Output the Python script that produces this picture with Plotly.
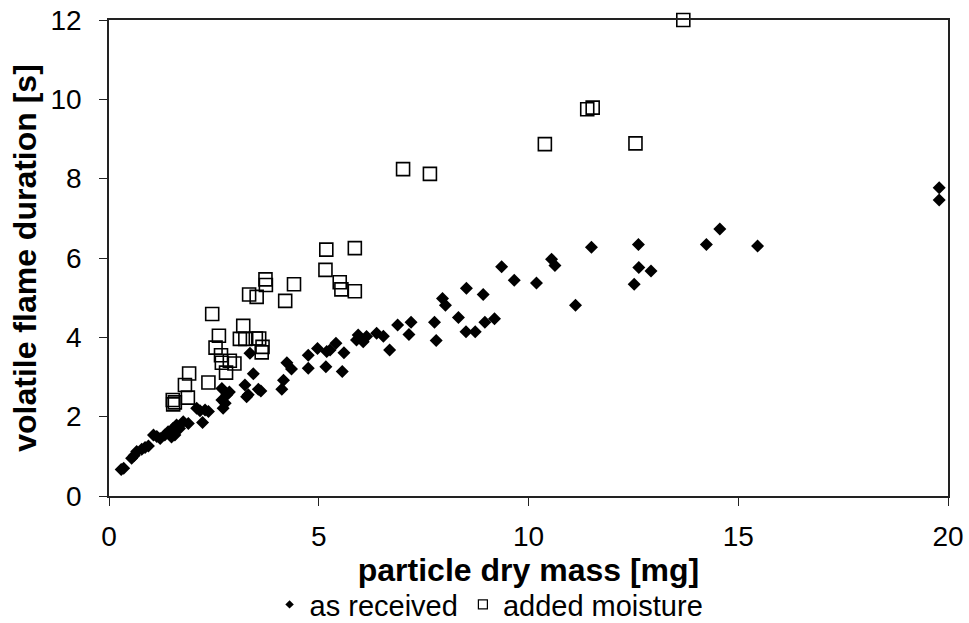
import plotly.graph_objects as go

# as received (filled diamonds)
recv_mass = [0.29, 0.35, 0.54, 0.60, 0.66, 0.78, 0.86, 0.94, 1.06, 1.14, 1.22, 1.33, 1.41, 1.49,
             1.53, 1.57, 1.61, 1.68, 1.77, 1.89, 2.09, 2.17, 2.29, 2.23, 2.37, 2.69, 2.81, 2.87,
             2.69, 2.72, 2.77, 3.24, 3.32, 3.28, 3.36, 3.44, 3.56, 3.62, 4.24, 4.35, 4.16, 4.12,
             4.75, 4.75, 4.97, 5.19, 5.27, 5.41, 5.17, 5.60, 5.56, 5.94, 6.14, 6.38, 6.06, 5.90,
             6.54, 6.69, 6.88, 7.15, 7.20, 7.76, 7.80, 7.95, 8.02, 8.33, 8.52, 8.51, 8.73, 8.92,
             8.96, 9.19, 9.36, 9.66, 10.19, 10.55, 10.63, 11.12, 11.50, 12.62, 12.63, 12.92, 12.52,
             14.24, 14.56, 15.46, 19.79, 19.79]
recv_dur = [0.67, 0.70, 0.95, 1.02, 1.12, 1.18, 1.22, 1.26, 1.54, 1.50, 1.45, 1.54, 1.62, 1.49,
            1.71, 1.54, 1.79, 1.70, 1.87, 1.83, 2.21, 2.15, 2.17, 1.85, 2.13, 2.71, 2.55, 2.62,
            2.42, 2.21, 2.34, 2.80, 2.55, 2.50, 3.60, 3.08, 2.69, 2.65, 3.36, 3.20, 2.92, 2.69,
            3.55, 3.22, 3.72, 3.64, 3.68, 3.85, 3.26, 3.61, 3.14, 4.06, 4.02, 4.10, 3.89, 3.93,
            4.03, 3.68, 4.31, 4.07, 4.38, 4.38, 3.92, 4.98, 4.81, 4.50, 5.24, 4.14, 4.14, 5.08,
            4.38, 4.47, 5.78, 5.44, 5.37, 5.97, 5.81, 4.81, 6.27, 6.34, 5.76, 5.67, 5.34,
            6.34, 6.73, 6.30, 7.77, 7.46]

# added moisture (open squares)
moist_mass = [1.52, 1.53, 1.57, 1.88, 1.81, 1.91, 2.37, 2.46, 2.62, 2.54, 2.67, 2.69, 2.88, 2.99,
              2.79, 3.20, 3.12, 3.25, 3.50, 3.58, 3.66, 3.64, 3.34, 3.52, 3.73, 3.74, 4.20, 4.41,
              5.16, 5.18, 5.86, 5.50, 5.54, 5.86, 7.01, 7.65, 10.39, 11.40, 11.53, 12.55, 13.69]
moist_dur = [2.42, 2.31, 2.36, 2.48, 2.80, 3.09, 2.86, 4.59, 4.04, 3.74, 3.55, 3.36, 3.41, 3.34,
             3.11, 4.29, 3.96, 3.96, 3.97, 3.97, 3.76, 3.62, 5.08, 5.02, 5.46, 5.32, 4.92, 5.34,
             5.70, 6.21, 6.25, 5.39, 5.21, 5.16, 8.24, 8.12, 8.87, 9.75, 9.79, 8.89, 12.00]

x_ticks = [0, 5, 10, 15, 20]
y_ticks = [0, 2, 4, 6, 8, 10, 12]

FONT = "Liberation Sans, Arial, sans-serif"

fig = go.Figure()
fig.add_trace(go.Scatter(
    x=recv_mass, y=recv_dur, mode="markers", showlegend=False, cliponaxis=False,
    marker=dict(symbol="diamond", size=10, color="black", line=dict(width=0)),
))
fig.add_trace(go.Scatter(
    x=moist_mass, y=moist_dur, mode="markers", showlegend=False, cliponaxis=False,
    marker=dict(symbol="square-open", size=13, color="black", line=dict(width=1.6)),
))
# legend entries (smaller symbols)
fig.add_trace(go.Scatter(
    x=[None], y=[None], mode="markers", name="as received",
    marker=dict(symbol="diamond", size=6.5, color="black"),
))
fig.add_trace(go.Scatter(
    x=[None], y=[None], mode="markers", name="added moisture",
    marker=dict(symbol="square-open", size=9, color="black", line=dict(width=1.2)),
))

axis_common = dict(
    showgrid=False, zeroline=False, showline=True, linecolor="#222", linewidth=1.5,
    mirror=True, ticks="outside", ticklen=8, tickwidth=1.3, tickcolor="#222",
    tickfont=dict(family=FONT, size=28, color="black"), automargin=False,
)
fig.update_xaxes(range=[0, 20], tickvals=x_ticks, ticklabelstandoff=7,
                 title=dict(text="<b>particle dry mass [mg]</b>", standoff=4,
                            font=dict(family=FONT, size=32, color="black")),
                 **axis_common)
fig.update_yaxes(range=[0, 12], tickvals=y_ticks, ticklabelstandoff=12,
                 title=dict(text="<b>volatile flame duration [s]</b>", standoff=4,
                            font=dict(family=FONT, size=32, color="black")),
                 **axis_common)

fig.update_layout(
    width=969, height=623,
    margin=dict(l=109, r=21, t=20, b=127, autoexpand=False),
    plot_bgcolor="white", paper_bgcolor="white",
    font=dict(family=FONT, color="black"),
    legend=dict(orientation="h", x=0.453, xanchor="center", y=-0.228, yanchor="middle",
                font=dict(family=FONT, size=29, color="black"),
                itemwidth=30, tracegroupgap=0, bgcolor="rgba(0,0,0,0)"),
)

fig.write_html("out.html", config={"displayModeBar": False},
               post_script="document.body.style.margin='0';document.body.style.overflow='hidden';")
